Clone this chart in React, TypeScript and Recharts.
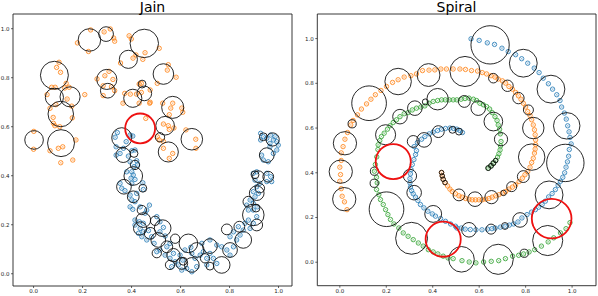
import React from 'react';
import { ScatterChart, Scatter, XAxis, YAxis, ReferenceArea } from 'recharts';

// ---- Jain ----
const jainOrange: [number, number][] = [
  [0.233, 0.995], [0.179, 0.942], [0.224, 0.907], [0.288, 0.987], [0.313, 0.999], [0.327, 0.962],
  [0.331, 0.949], [0.390, 0.971], [0.399, 0.958], [0.455, 0.902], [0.513, 0.920], [0.355, 0.860],
  [0.406, 0.880], [0.418, 0.893], [0.446, 0.875], [0.104, 0.863], [0.094, 0.842], [0.110, 0.822],
  [0.133, 0.777], [0.074, 0.761], [0.055, 0.731], [0.127, 0.758], [0.145, 0.761], [0.137, 0.713],
  [0.091, 0.690], [0.080, 0.638], [0.087, 0.604], [0.158, 0.636], [0.107, 0.600], [0.209, 0.731],
  [0.308, 0.826], [0.324, 0.793], [0.291, 0.808], [0.259, 0.795], [0.284, 0.767], [0.318, 0.763],
  [0.284, 0.727], [0.331, 0.747], [0.431, 0.774], [0.440, 0.777], [0.372, 0.736], [0.395, 0.733],
  [0.420, 0.733], [0.440, 0.740], [0.431, 0.696], [0.474, 0.696], [0.365, 0.696], [0.458, 0.634],
  [0.550, 0.853], [0.546, 0.831], [0.582, 0.802], [0.505, 0.777], [0.476, 0.750], [0.476, 0.700],
  [0.527, 0.696], [0.568, 0.696], [0.560, 0.676], [0.605, 0.676], [0.609, 0.659], [0.554, 0.649],
  [0.530, 0.611], [0.550, 0.604], [0.573, 0.595], [0.505, 0.559], [0.513, 0.546], [0.530, 0.540],
  [0.622, 0.587], [0.001, 0.581], [0.000, 0.508], [0.067, 0.502], [0.101, 0.512], [0.119, 0.518],
  [0.111, 0.453], [0.160, 0.464], [0.568, 0.491], [0.554, 0.471], [0.530, 0.512], [0.663, 0.512],
  [0.173, 0.546], [0.088, 0.761], [0.067, 0.675], [0.156, 0.684], [0.081, 0.614], [0.554, 0.589],
  [0.662, 0.549],
];

const jainBlue: [number, number][] = [
  [0.333, 0.557], [0.342, 0.576], [0.394, 0.566], [0.405, 0.562], [0.378, 0.539], [0.337, 0.518],
  [0.367, 0.512], [0.337, 0.484], [0.353, 0.491], [0.387, 0.480], [0.401, 0.502], [0.414, 0.505],
  [0.394, 0.457], [0.421, 0.461], [0.410, 0.437], [0.424, 0.444], [0.380, 0.416], [0.401, 0.416],
  [0.407, 0.403], [0.414, 0.385], [0.398, 0.390], [0.353, 0.369], [0.360, 0.349], [0.373, 0.339],
  [0.401, 0.369], [0.446, 0.371], [0.448, 0.344], [0.394, 0.321], [0.401, 0.301], [0.414, 0.294],
  [0.421, 0.328], [0.394, 0.273], [0.405, 0.263], [0.435, 0.273], [0.473, 0.280], [0.462, 0.260],
  [0.455, 0.247], [0.414, 0.219], [0.432, 0.212], [0.448, 0.206], [0.414, 0.199], [0.435, 0.185],
  [0.448, 0.171], [0.469, 0.176], [0.428, 0.165], [0.442, 0.151], [0.482, 0.151], [0.462, 0.138],
  [0.492, 0.124], [0.503, 0.233], [0.516, 0.212], [0.530, 0.189], [0.516, 0.171], [0.537, 0.154],
  [0.503, 0.090], [0.516, 0.097], [0.537, 0.076], [0.544, 0.110], [0.557, 0.124], [0.571, 0.083],
  [0.557, 0.063], [0.578, 0.049], [0.564, 0.029], [0.591, 0.036], [0.605, 0.015], [0.625, 0.022],
  [0.609, 0.056], [0.598, 0.076], [0.618, 0.097], [0.642, 0.108], [0.646, 0.083], [0.659, 0.063],
  [0.646, 0.008], [0.666, 0.029], [0.680, 0.076], [0.693, 0.090], [0.707, 0.063], [0.720, 0.083],
  [0.734, 0.063], [0.707, 0.036], [0.748, 0.042], [0.687, 0.124], [0.720, 0.138], [0.748, 0.117],
  [0.768, 0.110], [0.789, 0.097], [0.802, 0.076], [0.816, 0.110], [0.829, 0.138], [0.843, 0.158],
  [0.856, 0.178], [0.802, 0.151], [0.816, 0.171], [0.836, 0.192], [0.863, 0.206], [0.877, 0.219],
  [0.884, 0.185], [0.897, 0.206], [0.911, 0.233], [0.897, 0.260], [0.877, 0.260], [0.870, 0.280],
  [0.884, 0.301], [0.897, 0.287], [0.913, 0.273], [0.904, 0.314], [0.918, 0.328], [0.897, 0.335],
  [0.911, 0.355], [0.924, 0.369], [0.904, 0.382], [0.897, 0.410], [0.911, 0.416], [0.952, 0.410],
  [0.968, 0.396], [0.952, 0.376], [0.972, 0.376], [0.938, 0.464], [0.958, 0.457], [0.931, 0.484],
  [0.979, 0.491], [0.993, 0.505], [0.965, 0.518], [0.999, 0.525], [0.927, 0.573], [0.938, 0.559],
  [0.952, 0.553], [0.968, 0.566], [0.979, 0.546], [0.993, 0.539], [0.965, 0.532], [0.986, 0.559],
  [0.927, 0.546],
];

// centre x, centre y, radius (data units)
const jainCircles: [number, number, number][] = [
  [0.228, 0.954, 0.046], [0.296, 0.978, 0.030], [0.452, 0.940, 0.058], [0.387, 0.875, 0.037],
  [0.085, 0.810, 0.057], [0.299, 0.793, 0.041], [0.530, 0.815, 0.042], [0.085, 0.720, 0.037],
  [0.149, 0.722, 0.041], [0.303, 0.747, 0.030], [0.443, 0.774, 0.016], [0.452, 0.736, 0.030],
  [0.405, 0.716, 0.037], [0.568, 0.679, 0.045], [0.111, 0.652, 0.052], [0.360, 0.555, 0.041],
  [0.537, 0.604, 0.038], [0.646, 0.549, 0.044], [0.002, 0.546, 0.038], [0.112, 0.533, 0.055],
  [0.516, 0.557, 0.019], [0.550, 0.497, 0.041], [0.976, 0.548, 0.027], [0.938, 0.559, 0.016],
  [0.366, 0.484, 0.030], [0.410, 0.491, 0.016], [0.414, 0.444, 0.019], [0.407, 0.399, 0.038],
  [0.369, 0.355, 0.030], [0.446, 0.349, 0.016], [0.407, 0.314, 0.024], [0.442, 0.260, 0.019],
  [0.448, 0.219, 0.030], [0.435, 0.185, 0.027], [0.476, 0.165, 0.024], [0.527, 0.186, 0.034],
  [0.509, 0.138, 0.030], [0.544, 0.110, 0.024], [0.571, 0.076, 0.027], [0.557, 0.036, 0.019],
  [0.605, 0.042, 0.024], [0.632, 0.124, 0.038], [0.666, 0.097, 0.030], [0.646, 0.036, 0.030],
  [0.720, 0.113, 0.030], [0.700, 0.063, 0.019], [0.720, 0.031, 0.016], [0.768, 0.036, 0.034],
  [0.789, 0.181, 0.022], [0.802, 0.097, 0.030], [0.840, 0.192, 0.022], [0.856, 0.138, 0.034],
  [0.877, 0.294, 0.022], [0.897, 0.240, 0.044], [0.911, 0.199, 0.024], [0.924, 0.349, 0.019],
  [0.918, 0.396, 0.024], [0.958, 0.396, 0.022], [0.952, 0.484, 0.030], [0.904, 0.404, 0.016],
  [0.911, 0.329, 0.030], [0.908, 0.268, 0.016], [0.611, 0.051, 0.016], [0.578, 0.143, 0.019],
  [0.496, 0.216, 0.019], [0.503, 0.084, 0.019],
];
const jainRed: [number, number, number][] = [[0.435, 0.593, 0.061]];

// ---- Spiral ----
const spiralBlue: [number, number][] = [
  [0.565, 0.999], [0.600, 0.992], [0.635, 0.981], [0.666, 0.974], [0.698, 0.957], [0.725, 0.942],
  [0.757, 0.928], [0.783, 0.910], [0.809, 0.890], [0.837, 0.868], [0.858, 0.848], [0.876, 0.823],
  [0.898, 0.798], [0.916, 0.774], [0.934, 0.749], [0.948, 0.723], [0.955, 0.694], [0.967, 0.667],
  [0.975, 0.640], [0.981, 0.610], [0.987, 0.583], [0.991, 0.558], [0.996, 0.529], [0.988, 0.504],
  [0.985, 0.474], [0.980, 0.449], [0.974, 0.425], [0.968, 0.400], [0.960, 0.380], [0.950, 0.362],
  [0.940, 0.344], [0.928, 0.325], [0.914, 0.307], [0.899, 0.292], [0.885, 0.273], [0.871, 0.258],
  [0.856, 0.246], [0.842, 0.235], [0.825, 0.224], [0.806, 0.213], [0.784, 0.198], [0.767, 0.180],
  [0.748, 0.171], [0.730, 0.166], [0.712, 0.161], [0.691, 0.157], [0.669, 0.153], [0.655, 0.150],
  [0.636, 0.148], [0.612, 0.145], [0.586, 0.145], [0.562, 0.146], [0.540, 0.148], [0.523, 0.153],
  [0.504, 0.153], [0.498, 0.161], [0.477, 0.171], [0.455, 0.183], [0.434, 0.195], [0.412, 0.206],
  [0.398, 0.216], [0.379, 0.228], [0.362, 0.243], [0.347, 0.258], [0.336, 0.276], [0.326, 0.291],
  [0.316, 0.306], [0.309, 0.320], [0.304, 0.336], [0.302, 0.355], [0.302, 0.374], [0.304, 0.395],
  [0.307, 0.414], [0.312, 0.437], [0.319, 0.459], [0.326, 0.481], [0.330, 0.499], [0.320, 0.517],
  [0.334, 0.535], [0.352, 0.550], [0.366, 0.562], [0.385, 0.574], [0.402, 0.582], [0.421, 0.589],
  [0.438, 0.595], [0.455, 0.598], [0.474, 0.600], [0.490, 0.598], [0.504, 0.595], [0.517, 0.589],
  [0.528, 0.580],
];

const spiralOrange: [number, number][] = [
  [0.438, 0.401], [0.441, 0.386], [0.445, 0.371], [0.453, 0.356], [0.464, 0.341], [0.474, 0.327],
  [0.484, 0.316], [0.498, 0.306], [0.513, 0.297], [0.527, 0.291], [0.541, 0.285], [0.556, 0.282],
  [0.570, 0.279], [0.584, 0.279], [0.599, 0.279], [0.613, 0.279], [0.628, 0.282], [0.642, 0.285],
  [0.656, 0.291], [0.671, 0.297], [0.685, 0.302], [0.700, 0.309], [0.714, 0.316], [0.728, 0.327],
  [0.743, 0.336], [0.757, 0.346], [0.772, 0.361], [0.786, 0.376], [0.797, 0.391], [0.809, 0.405],
  [0.819, 0.425], [0.826, 0.446], [0.833, 0.465], [0.838, 0.488], [0.841, 0.506], [0.843, 0.526],
  [0.843, 0.547], [0.841, 0.570], [0.838, 0.592], [0.833, 0.614], [0.826, 0.637], [0.819, 0.656],
  [0.809, 0.674], [0.800, 0.694], [0.790, 0.711], [0.780, 0.729], [0.769, 0.744], [0.757, 0.759],
  [0.743, 0.774], [0.728, 0.786], [0.714, 0.801], [0.700, 0.811], [0.682, 0.819], [0.668, 0.828],
  [0.651, 0.834], [0.632, 0.842], [0.613, 0.848], [0.593, 0.855], [0.567, 0.857], [0.541, 0.862],
  [0.517, 0.864], [0.488, 0.864], [0.459, 0.864], [0.435, 0.864], [0.409, 0.860], [0.384, 0.859],
  [0.356, 0.857], [0.330, 0.842], [0.306, 0.834], [0.277, 0.828], [0.251, 0.816], [0.227, 0.804],
  [0.201, 0.786], [0.177, 0.768], [0.153, 0.749], [0.134, 0.729], [0.115, 0.708], [0.093, 0.685],
  [0.076, 0.659], [0.057, 0.634], [0.047, 0.614], [0.033, 0.580], [0.022, 0.550], [0.014, 0.517],
  [0.006, 0.489], [0.006, 0.455], [0.000, 0.425], [0.003, 0.392], [0.000, 0.362], [0.006, 0.329],
  [0.010, 0.295], [0.020, 0.270], [0.031, 0.235],
];

const spiralGreen: [number, number][] = [
  [0.639, 0.421], [0.651, 0.431], [0.661, 0.443], [0.671, 0.455], [0.679, 0.470], [0.685, 0.485],
  [0.690, 0.502], [0.692, 0.520], [0.694, 0.540], [0.691, 0.574], [0.688, 0.595], [0.682, 0.614],
  [0.677, 0.634], [0.668, 0.651], [0.656, 0.669], [0.645, 0.685], [0.632, 0.696], [0.618, 0.704],
  [0.603, 0.711], [0.589, 0.723], [0.575, 0.729], [0.556, 0.734], [0.539, 0.732], [0.522, 0.729],
  [0.504, 0.726], [0.488, 0.726], [0.471, 0.726], [0.454, 0.726], [0.438, 0.726], [0.421, 0.723],
  [0.402, 0.719], [0.384, 0.711], [0.366, 0.699], [0.349, 0.694], [0.330, 0.689], [0.312, 0.681],
  [0.294, 0.669], [0.277, 0.664], [0.259, 0.651], [0.244, 0.637], [0.230, 0.625], [0.216, 0.610],
  [0.205, 0.595], [0.191, 0.577], [0.179, 0.562], [0.172, 0.544], [0.165, 0.525], [0.164, 0.504],
  [0.159, 0.471], [0.153, 0.437], [0.149, 0.407], [0.158, 0.380], [0.161, 0.355], [0.158, 0.325],
  [0.168, 0.302], [0.175, 0.280], [0.187, 0.258], [0.197, 0.235], [0.207, 0.213], [0.218, 0.191],
  [0.233, 0.171], [0.254, 0.153], [0.273, 0.131], [0.294, 0.116], [0.316, 0.101], [0.338, 0.086],
  [0.359, 0.072], [0.381, 0.056], [0.402, 0.046], [0.422, 0.037], [0.445, 0.027], [0.466, 0.019],
  [0.488, 0.016], [0.526, 0.007], [0.557, 0.001], [0.586, -0.003], [0.619, 0.001], [0.652, 0.004],
  [0.684, 0.007], [0.713, 0.016], [0.744, 0.027], [0.770, 0.031], [0.791, 0.037], [0.815, 0.046],
  [0.839, 0.056], [0.868, 0.072], [0.897, 0.091], [0.921, 0.109], [0.950, 0.131], [0.974, 0.150],
  [0.991, 0.177],
];

const spiralCircles: [number, number, number][] = [
  [0.647, 0.972, 0.084], [0.790, 0.890, 0.061], [0.909, 0.774, 0.061], [0.977, 0.610, 0.058],
  [0.539, 0.853, 0.066], [0.382, 0.837, 0.050], [0.251, 0.808, 0.058], [0.126, 0.711, 0.076],
  [0.053, 0.619, 0.018], [0.022, 0.532, 0.051], [0.661, 0.823, 0.021], [0.722, 0.789, 0.025],
  [0.769, 0.734, 0.025], [0.812, 0.681, 0.022], [0.833, 0.600, 0.047], [0.971, 0.444, 0.082],
  [0.421, 0.729, 0.047], [0.536, 0.719, 0.026], [0.323, 0.689, 0.032], [0.596, 0.689, 0.032],
  [0.259, 0.651, 0.032], [0.661, 0.629, 0.041], [0.197, 0.570, 0.044], [0.694, 0.550, 0.029],
  [0.363, 0.547, 0.032], [0.424, 0.584, 0.026], [0.485, 0.592, 0.015], [0.513, 0.584, 0.015],
  [0.316, 0.540, 0.026], [0.004, 0.405, 0.051], [0.019, 0.282, 0.051], [0.148, 0.353, 0.018],
  [0.149, 0.407, 0.018], [0.201, 0.237, 0.076], [0.302, 0.386, 0.029], [0.320, 0.311, 0.032],
  [0.402, 0.216, 0.037], [0.309, 0.107, 0.070], [0.524, 0.013, 0.056], [0.682, 0.013, 0.066],
  [0.556, 0.145, 0.032], [0.651, 0.148, 0.022], [0.711, 0.162, 0.015], [0.776, 0.189, 0.032],
  [0.794, 0.040, 0.018], [0.895, 0.097, 0.066], [0.901, 0.301, 0.061], [0.826, 0.470, 0.058],
  [0.790, 0.383, 0.026], [0.513, 0.301, 0.026], [0.582, 0.282, 0.032], [0.653, 0.291, 0.029],
  [0.740, 0.338, 0.022], [0.368, 0.717, 0.013], [0.705, 0.310, 0.012],
  [0.438, 0.401, 0.010], [0.441, 0.386, 0.010], [0.445, 0.371, 0.010], [0.453, 0.356, 0.010],
  [0.639, 0.421, 0.011], [0.651, 0.431, 0.011], [0.661, 0.443, 0.011], [0.671, 0.455, 0.010],
];
const spiralRed: [number, number, number][] = [
  [0.230, 0.450, 0.077], [0.445, 0.103, 0.077], [0.912, 0.195, 0.087],
];

const ticks = [0, 0.2, 0.4, 0.6, 0.8, 1.0];

const toPts = (a: [number, number][]) => a.map(([x, y]) => ({ x, y }));
const toCircles = (a: [number, number, number][]) => a.map(([x, y, r]) => ({ x, y, r }));

const FONT = '"DejaVu Sans", sans-serif';

const marker = (color: string) => (props: any) => {
  const { cx, cy } = props;
  if (cx == null || cy == null) return <g />;
  return (
    <g>
      <circle cx={cx} cy={cy} r={2.2} fill="none" stroke={color} strokeWidth={0.8} />
      <path d={`M${cx - 1.1},${cy - 1.1}L${cx + 1.1},${cy + 1.1}M${cx - 1.1},${cy + 1.1}L${cx + 1.1},${cy - 1.1}`} stroke={color} strokeWidth={0.5} opacity={0.7} />
    </g>
  );
};

const ring = (pxPerUnit: number, color: string, width: number) => (props: any) => {
  const { cx, cy, payload } = props;
  if (cx == null || cy == null) return <g />;
  return <circle cx={cx} cy={cy} r={payload.r * pxPerUnit} fill="none" stroke={color} strokeWidth={width} />;
};

const tickStyle = { fontSize: 5.5, fill: '#222', fontFamily: FONT };

interface PanelProps {
  xDomain: [number, number];
  yDomain: [number, number];
  yAxisWidth: number;
  xAxisHeight: number;
  right: number;
  pxPerUnit: number;
  series: { data: [number, number][]; color: string }[];
  circles: [number, number, number][];
  red: [number, number, number][];
}

const Panel: React.FC<PanelProps> = ({ xDomain, yDomain, yAxisWidth, xAxisHeight, right, pxPerUnit, series, circles, red }) => (
  <ScatterChart width={299} height={296} margin={{ top: 14, right, bottom: 0, left: 0 }}>
    <XAxis
      type="number" dataKey="x" domain={xDomain} ticks={ticks} allowDataOverflow
      tickFormatter={(v: number) => v.toFixed(1)} tick={tickStyle}
      tickSize={2} tickMargin={1.5} height={xAxisHeight}
      axisLine={false} tickLine={{ stroke: '#222', strokeWidth: 0.7 }}
    />
    <YAxis
      type="number" dataKey="y" domain={yDomain} ticks={ticks} allowDataOverflow
      tickFormatter={(v: number) => v.toFixed(1)} tick={tickStyle}
      tickSize={2} tickMargin={1.5} width={yAxisWidth}
      axisLine={false} tickLine={{ stroke: '#222', strokeWidth: 0.7 }}
    />
    {series.map((s, i) => (
      <Scatter key={i} data={toPts(s.data)} shape={marker(s.color)} isAnimationActive={false} />
    ))}
    <Scatter data={toCircles(circles)} shape={ring(pxPerUnit, '#111', 0.9)} isAnimationActive={false} />
    <Scatter data={toCircles(red)} shape={ring(pxPerUnit, '#ee1111', 1.8)} isAnimationActive={false} />
    <ReferenceArea
      x1={xDomain[0]} x2={xDomain[1]} y1={yDomain[0]} y2={yDomain[1]}
      fill="none" fillOpacity={0} stroke="#222" strokeWidth={0.9} ifOverflow="visible"
    />
  </ScatterChart>
);

export default function App() {
  return (
    <div style={{ position: 'absolute', left: 0, top: 0, width: 598, height: 296, background: '#fff' }}>
      <div style={{ position: 'absolute', left: 0, top: 0 }}>
        <Panel
          xDomain={[-0.084, 1.055]} yDomain={[-0.05, 1.06]} yAxisWidth={13} xAxisHeight={10} right={7}
          pxPerUnit={245}
          series={[{ data: jainBlue, color: '#1f77b4' }, { data: jainOrange, color: '#ff7f0e' }]}
          circles={jainCircles} red={jainRed}
        />
      </div>
      <div style={{ position: 'absolute', left: 299, top: 0 }}>
        <Panel
          xDomain={[-0.097, 1.103]} yDomain={[-0.105, 1.11]} yAxisWidth={18.3} xAxisHeight={10.3} right={2}
          pxPerUnit={228}
          series={[
            { data: spiralBlue, color: '#1f77b4' },
            { data: spiralOrange, color: '#ff7f0e' },
            { data: spiralGreen, color: '#2ca02c' },
          ]}
          circles={spiralCircles} red={spiralRed}
        />
      </div>
      <svg width={598} height={296} style={{ position: 'absolute', left: 0, top: 0, pointerEvents: 'none' }}>
        <text x={152.5} y={12} textAnchor="middle" fontSize={14} fontFamily={FONT} fill="#000">Jain</text>
        <text x={456.5} y={12} textAnchor="middle" fontSize={14} fontFamily={FONT} fill="#000">Spiral</text>
      </svg>
    </div>
  );
}
